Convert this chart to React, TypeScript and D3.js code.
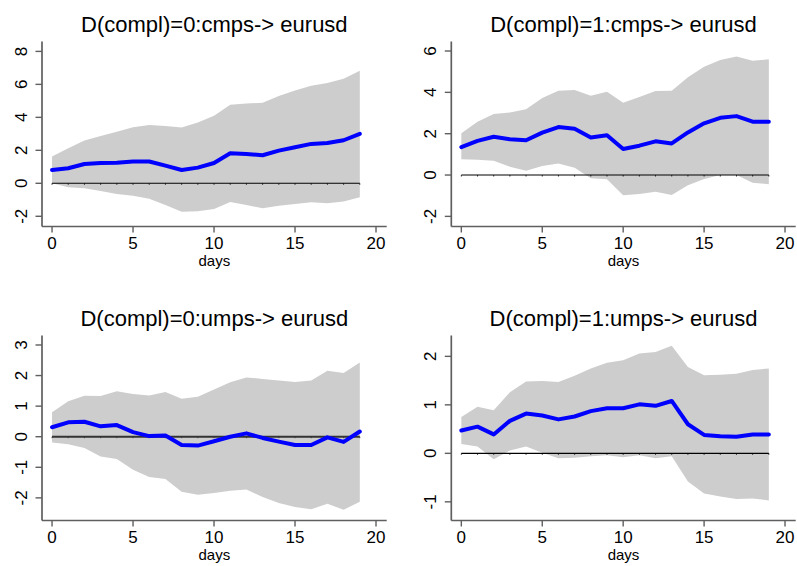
import React from "react";
import * as d3 from "d3";

const days = d3.range(0, 20);
const xTicks = [0, 5, 10, 15, 20];

const titles = [
  "D(compl)=0:cmps-> eurusd",
  "D(compl)=1:cmps-> eurusd",
  "D(compl)=0:umps-> eurusd",
  "D(compl)=1:umps-> eurusd",
];

const irf00 = [0.81, 0.91, 1.17, 1.23, 1.25, 1.32, 1.32, 1.07, 0.81, 0.95, 1.23, 1.82, 1.78, 1.7, 1.98, 2.19, 2.39, 2.45, 2.61, 3.0];
const hi00 = [1.62, 2.13, 2.6, 2.87, 3.12, 3.4, 3.54, 3.48, 3.38, 3.68, 4.09, 4.76, 4.84, 4.88, 5.3, 5.63, 5.91, 6.09, 6.34, 6.82];
const lo00 = [0.0, -0.24, -0.3, -0.47, -0.65, -0.75, -0.93, -1.32, -1.72, -1.7, -1.56, -1.13, -1.32, -1.52, -1.36, -1.26, -1.15, -1.21, -1.11, -0.85];

const irf01 = [1.35, 1.65, 1.85, 1.73, 1.68, 2.05, 2.32, 2.24, 1.82, 1.92, 1.26, 1.42, 1.63, 1.53, 2.06, 2.5, 2.77, 2.85, 2.58, 2.58];
const hi01 = [2.02, 2.58, 2.95, 3.02, 3.18, 3.73, 4.08, 4.11, 3.84, 4.03, 3.5, 3.77, 4.06, 4.08, 4.73, 5.24, 5.56, 5.73, 5.53, 5.6];
const lo01 = [0.76, 0.74, 0.69, 0.4, 0.21, 0.44, 0.56, 0.35, -0.16, -0.21, -0.98, -0.92, -0.81, -0.97, -0.5, -0.19, 0.0, 0.0, -0.37, -0.44];

const irf10 = [0.31, 0.47, 0.49, 0.34, 0.38, 0.15, 0.02, 0.04, -0.27, -0.29, -0.15, 0.0, 0.11, -0.04, -0.16, -0.27, -0.27, -0.02, -0.17, 0.17];
const hi10 = [0.8, 1.16, 1.34, 1.33, 1.49, 1.4, 1.35, 1.46, 1.24, 1.31, 1.54, 1.78, 1.94, 1.89, 1.84, 1.79, 1.84, 2.16, 2.08, 2.43];
const lo10 = [-0.19, -0.25, -0.37, -0.65, -0.73, -1.08, -1.32, -1.38, -1.8, -1.9, -1.84, -1.77, -1.73, -1.97, -2.17, -2.3, -2.37, -2.19, -2.39, -2.13];

const irf11 = [0.47, 0.55, 0.39, 0.67, 0.82, 0.78, 0.7, 0.76, 0.87, 0.93, 0.93, 1.01, 0.98, 1.08, 0.6, 0.38, 0.35, 0.34, 0.39, 0.39];
const hi11 = [0.75, 0.96, 0.89, 1.26, 1.48, 1.49, 1.47, 1.6, 1.75, 1.87, 1.92, 2.06, 2.09, 2.22, 1.78, 1.61, 1.62, 1.64, 1.72, 1.75];
const lo11 = [0.19, 0.14, -0.12, 0.06, 0.14, 0.01, -0.1, -0.09, -0.06, -0.04, -0.08, -0.04, -0.1, -0.06, -0.58, -0.83, -0.89, -0.94, -0.93, -0.97];

const yTicks = [
  [-2, 0, 2, 4, 6, 8],
  [-2, 0, 2, 4, 6],
  [-2, -1, 0, 1, 2, 3],
  [-1, 0, 1, 2],
];
const yDomains: [number, number][] = [
  [-2.62, 8.6],
  [-2.49, 6.46],
  [-2.74, 3.31],
  [-1.385, 2.43],
];

const panels = [
  { title: titles[0], irf: irf00, hi: hi00, lo: lo00, ticks: yTicks[0], dom: yDomains[0], col: 0, row: 0, zeroW: 1.1, zeroC: "#000" },
  { title: titles[1], irf: irf01, hi: hi01, lo: lo01, ticks: yTicks[1], dom: yDomains[1], col: 1, row: 0, zeroW: 1.1, zeroC: "#000" },
  { title: titles[2], irf: irf10, hi: hi10, lo: lo10, ticks: yTicks[2], dom: yDomains[2], col: 0, row: 1, zeroW: 2, zeroC: "#333" },
  { title: titles[3], irf: irf11, hi: hi11, lo: lo11, ticks: yTicks[3], dom: yDomains[3], col: 1, row: 1, zeroW: 1.1, zeroC: "#000" },
];

const colX = [[42, 386.7], [451.3, 795.7]];
const rowY = [[41.5, 226.5], [335.5, 520.5]];
const FONT = "'Liberation Sans', Arial, Helvetica, sans-serif";
const AXC = "#5f5f5f";

function Panel({ p }: { p: (typeof panels)[number] }) {
  const [x0, x1] = colX[p.col];
  const [y0, y1] = rowY[p.row];
  const x = d3.scaleLinear().domain([-0.62, 20.66]).range([x0, x1]);
  const y = d3.scaleLinear().domain(p.dom).range([y1, y0]);
  const area = d3
    .area<number>()
    .x((d) => x(d))
    .y0((d, i) => y(p.lo[i]))
    .y1((d, i) => y(p.hi[i]));
  const line = d3
    .line<number>()
    .x((d) => x(d))
    .y((d, i) => y(p.irf[i]));
  const cx = (x0 + x1) / 2;
  return (
    <g fontFamily={FONT}>
      <path d={area(days) || ""} fill="#cdcdcd" stroke="none" />
      <line x1={x(0)} x2={x(19)} y1={y(0)} y2={y(0)} stroke={p.zeroC} strokeWidth={p.zeroW} />
      {days.map((d) => (
        <line key={"zt" + d} x1={x(d)} x2={x(d)} y1={y(0)} y2={y(0) + 1.5} stroke={p.zeroC} strokeWidth={0.8} />
      ))}
      <path d={line(days) || ""} fill="none" stroke="#0000ff" strokeWidth={4} strokeLinejoin="round" strokeLinecap="round" />
      <line x1={x0} x2={x0} y1={y0} y2={y1} stroke={AXC} strokeWidth={1.7} />
      <line x1={x0} x2={x1} y1={y1} y2={y1} stroke={AXC} strokeWidth={1.7} />
      {p.ticks.map((t) => (
        <g key={"yt" + t}>
          <line x1={x0 - 6.5} x2={x0} y1={y(t)} y2={y(t)} stroke={AXC} strokeWidth={1.4} />
          <text
            transform={`translate(${x0 - 15.3},${y(t)}) rotate(-90)`}
            textAnchor="middle"
            fontSize={17}
            fill="#000"
          >
            {t}
          </text>
        </g>
      ))}
      {xTicks.map((t) => (
        <g key={"xt" + t}>
          <line x1={x(t)} x2={x(t)} y1={y1} y2={y1 + 6} stroke={AXC} strokeWidth={1.4} />
          <text x={x(t)} y={y1 + 22.8} textAnchor="middle" fontSize={17} fill="#000">
            {t}
          </text>
        </g>
      ))}
      <text x={cx} y={y1 + 39.5} textAnchor="middle" fontSize={15} fill="#000">
        days
      </text>
      <text x={cx} y={y0 - 9.5} textAnchor="middle" fontSize={22} fill="#000">
        {p.title}
      </text>
    </g>
  );
}

export default function App() {
  return (
    <svg
      width={797}
      height={566}
      style={{ position: "absolute", left: 0, top: 0, background: "#fff" }}
    >
      <rect width={797} height={566} fill="#fff" />
      {panels.map((p, i) => (
        <Panel key={i} p={p} />
      ))}
    </svg>
  );
}
